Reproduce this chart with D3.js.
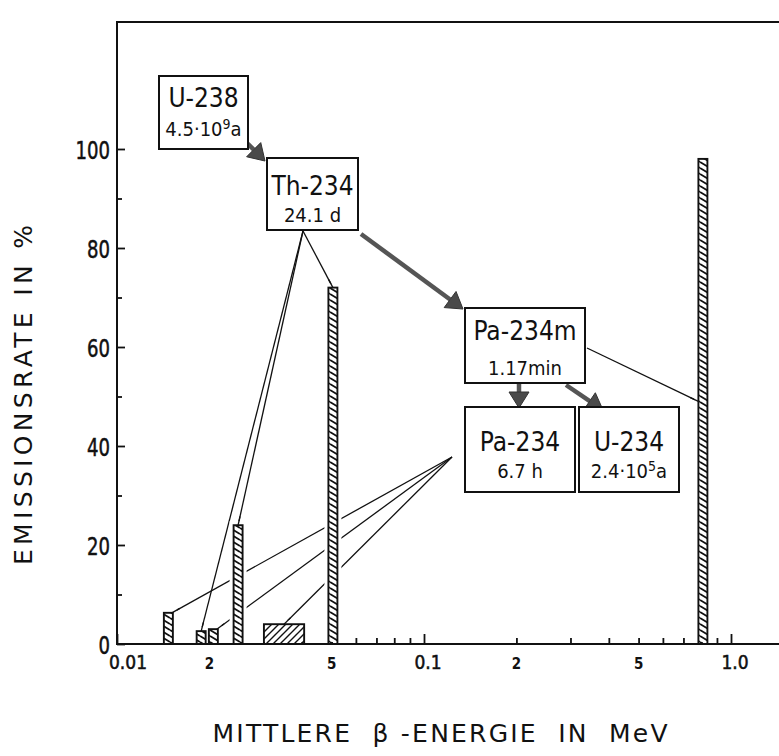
<!DOCTYPE html>
<html>
<head>
<meta charset="utf-8">
<script src="https://cdn.jsdelivr.net/npm/d3@7"></script>
<style>
  html, body { margin: 0; padding: 0; background: #fff; }
  svg { display: block; }
  text { font-family: 'DejaVu Sans Condensed', 'DejaVu Sans', sans-serif; font-stretch: condensed; fill: #111; }
</style>
</head>
<body>
<svg id="chart" width="779" height="756"></svg>
<script>
// Decay chain U-238 -> Th-234 -> Pa-234m -> (Pa-234 | U-234)
const nuclides      = ["U-238", "Th-234", "Pa-234m", "Pa-234", "U-234"];
const halfLifeBase  = ["4.5·10", "24.1 d", "1.17min", "6.7 h", "2.4·10"];
const halfLifeExp   = ["9", "", "", "", "5"];
const halfLifeUnit  = ["a", "", "", "", "a"];
const decayFrom     = ["U-238", "Th-234", "Pa-234m", "Pa-234m"];
const decayTo       = ["Th-234", "Pa-234m", "Pa-234", "U-234"];

// Beta groups: emitter, mean energy (MeV), energy band (wide group only), emission rate (%)
const betaEmitter    = ["Pa-234", "Th-234", "Pa-234", "Th-234", "Pa-234", "Th-234", "Pa-234m"];
const betaEnergy     = [0.0147, 0.0188, 0.0206, 0.0248, 0.035, 0.0505, 0.81];
const betaEnergyLow  = [null, null, null, null, 0.0301, null, null];
const betaEnergyHigh = [null, null, null, null, 0.0407, null, null];
const betaRate       = [6.3, 2.6, 3.0, 24, 4.0, 72, 98];

// Axis ticks
const yTicks       = [0, 20, 40, 60, 80, 100];
const yMinorTicks  = [10, 30, 50, 70, 90];
const xMajorTicks  = [0.01, 0.1, 1.0];
const xMinorTicks  = [0.02, 0.03, 0.04, 0.05, 0.06, 0.07, 0.08, 0.09,
                      0.2, 0.3, 0.4, 0.5, 0.6, 0.7, 0.8, 0.9];
const xLabelValues = [0.01, 0.02, 0.05, 0.1, 0.2, 0.5, 1.0];
const xLabelTexts  = ["0.01", "2", "5", "0.1", "2", "5", "1.0"];

// ---------------------------------------------------------------
const svg = d3.select("#chart");
const ink = "#111";

const x = d3.scaleLog().domain([0.01, 1]).range([117, 731]);
const y = d3.scaleLinear().domain([0, 100]).range([644, 149]);
const plotRight = 779, plotTop = 22;

const defs = svg.append("defs");
defs.append("pattern").attr("id", "rope")
  .attr("patternUnits", "userSpaceOnUse").attr("width", 10).attr("height", 6)
  .append("path").attr("d", "M0,-6L10,0M0,0L10,6M0,6L10,12")
  .attr("stroke", ink).attr("stroke-width", 1.8).attr("fill", "none");
defs.append("pattern").attr("id", "hatch")
  .attr("patternUnits", "userSpaceOnUse").attr("width", 7).attr("height", 7)
  .append("path").attr("d", "M-1,1L1,-1M0,7L7,0M6,8L8,6")
  .attr("stroke", ink).attr("stroke-width", 1.4).attr("fill", "none");

// ---- axes: ticks point into the plot
const gy = svg.append("g").attr("transform", `translate(${x(0.01)},0)`);
gy.call(d3.axisLeft(y).tickValues(yTicks).tickSize(-8).tickPadding(7).tickFormat(d3.format("d")));
gy.append("g").call(d3.axisLeft(y).tickValues(yMinorTicks).tickSize(-5).tickFormat(""));
gy.selectAll(".domain").remove();
gy.selectAll("line").attr("stroke", ink).attr("stroke-width", 1.8);
gy.selectAll("text")
  .style("font-size", "25px").attr("fill", ink)
  .attr("stroke", ink).attr("stroke-width", 0.5)
  .attr("textLength", function () { return this.textContent.length * 11.5; })
  .attr("lengthAdjust", "spacingAndGlyphs")
  .attr("dy", "0.36em");

const gx = svg.append("g").attr("transform", `translate(0,${y(0)})`);
gx.call(d3.axisBottom(x).tickValues(xMajorTicks).tickSize(-10).tickFormat(""));
gx.append("g").call(d3.axisBottom(x).tickValues(xMinorTicks).tickSize(-6).tickFormat(""));
gx.selectAll(".domain").remove();
gx.selectAll("line").attr("stroke", ink).attr("stroke-width", 1.8);

svg.append("g").selectAll("text")
  .data(xLabelValues.map((v, i) => ({ v, t: xLabelTexts[i] })))
  .join("text")
  .attr("x", d => x(d.v) + (d.v === 0.01 ? 11 : d.t.length > 1 ? 4 : 0))
  .attr("y", 669)
  .attr("text-anchor", "middle")
  .style("font-size", d => d.t.length > 1 ? "19px" : "15px")
  .style("font-weight", d => d.t.length > 1 ? "normal" : "bold")
  .attr("stroke", ink).attr("stroke-width", d => d.t.length > 1 ? 0.5 : 0)
  .text(d => d.t);

// ---- beta groups
const bars = betaEnergy.map((e, i) => ({
  emitter: betaEmitter[i], e, lo: betaEnergyLow[i], hi: betaEnergyHigh[i], rate: betaRate[i]
}));
const narrowW = 9;
const bx0 = d => d.lo != null ? x(d.lo) : x(d.e) - narrowW / 2;
const bx1 = d => d.hi != null ? x(d.hi) : x(d.e) + narrowW / 2;

// ---- leader lines from each emitter box to its groups
const leaderOrigin = { "Th-234": [303, 231], "Pa-234": [452, 457], "Pa-234m": [587, 348] };
function attach(d) {
  if (d.emitter === "Pa-234m") return [bx0(d), y(d.rate / 2)];
  if (d.emitter === "Pa-234" && d.lo == null) return [bx1(d) - 1, y(d.rate)];
  return [(bx0(d) + bx1(d)) / 2, y(d.rate)];
}
const leaders = bars.map(d => ({ from: leaderOrigin[d.emitter], to: attach(d) }));

svg.append("g").selectAll("line").data(leaders).join("line")
  .attr("x1", d => d.from[0]).attr("y1", d => d.from[1])
  .attr("x2", d => d.to[0]).attr("y2", d => d.to[1])
  .attr("stroke", ink).attr("stroke-width", 1.3);

// white gap around each bar where leaders pass behind it
svg.append("g").selectAll("rect").data(bars).join("rect")
  .attr("x", d => bx0(d) - 4).attr("width", d => bx1(d) - bx0(d) + 8)
  .attr("y", d => y(d.rate) - 4).attr("height", d => y(0) - y(d.rate) + 2)
  .attr("fill", "#fff");

svg.append("g").selectAll("rect").data(bars).join("rect")
  .attr("x", d => bx0(d)).attr("width", d => bx1(d) - bx0(d))
  .attr("y", d => y(d.rate)).attr("height", d => y(0) - y(d.rate))
  .attr("fill", d => d.lo != null ? "url(#hatch)" : "url(#rope)")
  .attr("stroke", ink).attr("stroke-width", 1.9);

// leader ends redrawn so they touch their own bar
svg.append("g").selectAll("line").data(leaders).join("line")
  .each(function (d) {
    const dx = d.to[0] - d.from[0], dy = d.to[1] - d.from[1];
    const len = Math.hypot(dx, dy);
    d3.select(this)
      .attr("x1", d.to[0] - dx / len * 9).attr("y1", d.to[1] - dy / len * 9)
      .attr("x2", d.to[0]).attr("y2", d.to[1]);
  })
  .attr("stroke", ink).attr("stroke-width", 1.3);

// ---- frame
svg.append("path")
  .attr("d", `M${plotRight},${plotTop}H${x(0.01)}V${y(0)}H${plotRight}`)
  .attr("fill", "none").attr("stroke", ink).attr("stroke-width", 2);

// ---- nuclide boxes
const boxLayout = {
  "U-238":   { x: 159, y: 76,  w: 89,  h: 73, b1: 31, b2: 60 },
  "Th-234":  { x: 267, y: 158, w: 91,  h: 72, b1: 37, b2: 64 },
  "Pa-234m": { x: 465, y: 308, w: 120, h: 75, b1: 32, b2: 67 },
  "Pa-234":  { x: 465, y: 407, w: 110, h: 85, b1: 44, b2: 71 },
  "U-234":   { x: 579, y: 407, w: 100, h: 85, b1: 44, b2: 71 }
};

// ---- decay arrows
const arrowPath = {
  "U-238>Th-234":   [[245, 141], [265, 161]],
  "Th-234>Pa-234m": [[361, 234], [463, 309]],
  "Pa-234m>Pa-234": [[519, 384], [519, 408]],
  "Pa-234m>U-234":  [[566, 385], [603, 410]]
};
const arrowG = svg.append("g");
decayFrom.forEach((f, i) => {
  const [p0, p1] = arrowPath[f + ">" + decayTo[i]];
  const dx = p1[0] - p0[0], dy = p1[1] - p0[1], len = Math.hypot(dx, dy);
  const ux = dx / len, uy = dy / len, L = 16, W = 10;
  const bx = p1[0] - ux * L, by = p1[1] - uy * L;
  arrowG.append("line").attr("x1", p0[0]).attr("y1", p0[1]).attr("x2", bx).attr("y2", by)
    .attr("stroke", "#555").attr("stroke-width", 4.5);
  arrowG.append("path")
    .attr("d", `M${p1[0]},${p1[1]}L${bx - uy * W},${by + ux * W}L${bx + uy * W},${by - ux * W}Z`)
    .attr("fill", "#4a4a4a").attr("stroke", "#333").attr("stroke-width", 1);
});

const boxG = svg.append("g").selectAll("g").data(nuclides).join("g")
  .attr("transform", n => `translate(${boxLayout[n].x},${boxLayout[n].y})`);
boxG.append("rect")
  .attr("width", n => boxLayout[n].w).attr("height", n => boxLayout[n].h)
  .attr("fill", "#fff").attr("stroke", ink).attr("stroke-width", 2);
boxG.append("text")
  .attr("x", n => boxLayout[n].w / 2).attr("y", n => boxLayout[n].b1)
  .attr("text-anchor", "middle").style("font-size", "26px")
  .text(n => n);
boxG.each(function (n, i) {
  const t = d3.select(this).append("text")
    .attr("x", boxLayout[n].w / 2).attr("y", boxLayout[n].b2)
    .attr("text-anchor", "middle").style("font-size", "20px");
  t.append("tspan").text(halfLifeBase[i]);
  if (halfLifeExp[i]) {
    t.append("tspan").attr("dy", -7).style("font-size", "14px").text(halfLifeExp[i]);
    t.append("tspan").attr("dy", 7).text(halfLifeUnit[i]);
  }
});

// ---- axis titles
svg.append("text")
  .attr("transform", "translate(32,395) rotate(-90)")
  .attr("text-anchor", "middle")
  .style("font-family", "'DejaVu Sans', sans-serif").style("font-stretch", "normal")
  .style("font-size", "25px")
  .attr("textLength", 340).attr("lengthAdjust", "spacing")
  .text("EMISSIONSRATE IN %");

svg.append("text")
  .attr("x", 440).attr("y", 742)
  .attr("text-anchor", "middle")
  .style("font-family", "'DejaVu Sans', sans-serif").style("font-stretch", "normal")
  .style("font-size", "25px").style("white-space", "pre")
  .attr("textLength", 455).attr("lengthAdjust", "spacing")
  .text("MITTLERE  β -ENERGIE  IN  MeV");
</script>
</body>
</html>
